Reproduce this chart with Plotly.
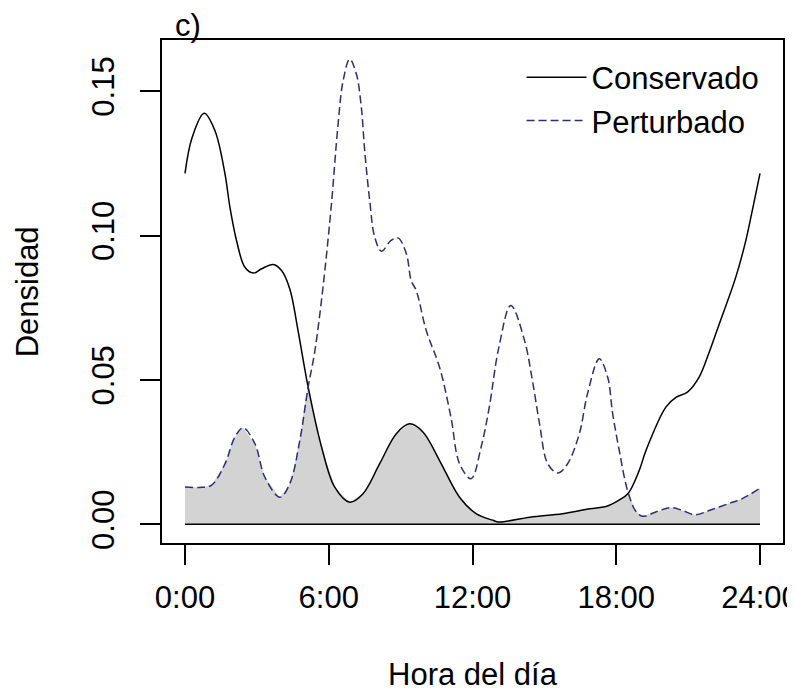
import numpy as np
import plotly.graph_objects as go

# Densidad circular por hora del día
hora_conservado = [0.0, 0.3, 0.8, 1.25, 1.67, 1.875, 2.15, 2.5, 2.85, 3.2, 3.68, 4.03,
                   4.375, 4.72, 5.14, 5.7, 6.25, 6.875, 7.43, 8.125, 8.82, 9.375, 9.93,
                   10.625, 11.46, 12.15, 12.85, 13.1, 14.4, 15.76, 16.9, 17.57, 18.1,
                   18.5, 18.96, 19.24, 20.07, 20.49, 20.97, 21.46, 21.875, 22.3, 22.99,
                   23.4, 23.68, 24.0]
dens_conservado = [0.1215, 0.134, 0.1423, 0.1363, 0.1213, 0.1098, 0.0983, 0.089, 0.087,
                   0.0885, 0.090, 0.0879, 0.0815, 0.067, 0.0475, 0.0268, 0.0129, 0.0077,
                   0.0106, 0.021, 0.0314, 0.0348, 0.032, 0.0221, 0.0094, 0.0037, 0.0014,
                   0.0008, 0.0025, 0.0037, 0.0054, 0.0062, 0.0083, 0.0108, 0.0187,
                   0.0256, 0.0406, 0.044, 0.0458, 0.051, 0.0595, 0.0694, 0.0856, 0.098,
                   0.1087, 0.1215]

hora_perturbado = [0.0, 0.6, 1.1, 1.67, 2.08, 2.43, 2.92, 3.33, 3.96, 4.375, 4.79, 5.14,
                   5.42, 5.76, 6.1, 6.39, 6.6, 6.875, 7.15, 7.36, 7.5, 7.71, 7.92, 8.2,
                   8.6, 8.89, 9.24, 9.44, 9.65, 10.07, 10.625, 11.1, 11.46, 11.94, 12.36,
                   12.7, 13.1, 13.6, 14.17, 14.5, 14.8, 15.14, 15.56, 15.97, 16.46, 16.8,
                   17.29, 17.64, 17.85, 18.125, 18.47, 18.82, 19.1, 19.65, 20.28, 20.76,
                   21.32, 21.875, 22.7, 23.26, 24.0]
dens_perturbado = [0.0129, 0.0128, 0.0135, 0.021, 0.0302, 0.0334, 0.0279, 0.0164, 0.0094,
                   0.0141, 0.029, 0.0475, 0.060, 0.0821, 0.1098, 0.1386, 0.1536, 0.1611,
                   0.156, 0.1444, 0.1294, 0.1121, 0.0994, 0.0946, 0.0983, 0.0992, 0.0937,
                   0.0844, 0.081, 0.0671, 0.0544, 0.0371, 0.021, 0.0158, 0.0268, 0.0406,
                   0.0613, 0.0758, 0.0637, 0.0498, 0.0348, 0.021, 0.0178, 0.021, 0.0314,
                   0.0452, 0.0573, 0.051, 0.0383, 0.0256, 0.0118, 0.0045, 0.0028, 0.0043,
                   0.0058, 0.0048, 0.0033, 0.0048, 0.0072, 0.0089, 0.0125]

tick_horas = [0, 6, 12, 18, 24]
tick_textos = ["0:00", "6:00", "12:00", "18:00", "24:00"]
tick_dens = [0.00, 0.05, 0.10, 0.15]
tick_dens_textos = ["0.00", "0.05", "0.10", "0.15"]

FONT = "Liberation Sans, Arial, sans-serif"
AZUL = "#2E2E72"
GRIS = "#D3D3D3"

# área de solapamiento = mínimo de las dos densidades
horas_comun = sorted(set(hora_conservado) | set(hora_perturbado))
solape = np.minimum(np.interp(horas_comun, hora_conservado, dens_conservado),
                    np.interp(horas_comun, hora_perturbado, dens_perturbado))

fig = go.Figure()

fig.add_trace(go.Scatter(x=horas_comun, y=solape, mode="lines",
                         line=dict(width=0, shape="spline", smoothing=0.6),
                         fill="tozeroy", fillcolor=GRIS, showlegend=False,
                         hoverinfo="skip"))

# línea base
fig.add_trace(go.Scatter(x=[horas_comun[0], horas_comun[-1]], y=[0, 0],
                         mode="lines", line=dict(color="black", width=1.5),
                         showlegend=False, hoverinfo="skip"))

fig.add_trace(go.Scatter(x=hora_conservado, y=dens_conservado, mode="lines",
                         name="Conservado",
                         line=dict(color="black", width=1.5, shape="spline")))
fig.add_trace(go.Scatter(x=hora_perturbado, y=dens_perturbado, mode="lines",
                         name="Perturbado",
                         line=dict(color=AZUL, width=1.5, shape="spline", dash="8px,4px")))

fig.update_xaxes(range=[-0.96, 24.96], tickvals=tick_horas, ticktext=tick_textos,
                 showgrid=False, zeroline=False, showline=True, mirror=True,
                 linecolor="black", linewidth=1.5, ticks="outside", ticklen=20,
                 tickwidth=1.5, tickcolor="black", ticklabelstandoff=6,
                 automargin=False, ticklabeloverflow="allow",
                 tickfont=dict(size=31, color="black", family=FONT))
fig.update_yaxes(range=[-0.00645, 0.1677], tickvals=tick_dens, ticktext=tick_dens_textos,
                 showgrid=False, zeroline=False, showline=True, mirror=True,
                 linecolor="black", linewidth=1.5, ticks="outside", ticklen=20,
                 tickwidth=1.5, tickcolor="black", tickangle=-90, ticklabelstandoff=14,
                 automargin=False,
                 tickfont=dict(size=31, color="black", family=FONT))

fig.add_annotation(text="Hora del día", x=0.5, y=-0.262, xref="paper", yref="paper",
                   showarrow=False, xanchor="center", yanchor="middle",
                   font=dict(size=31, color="black", family=FONT))
fig.add_annotation(text="Densidad", x=-0.216, y=0.5, xref="paper", yref="paper",
                   showarrow=False, textangle=-90, xanchor="center", yanchor="middle",
                   font=dict(size=31, color="black", family=FONT))
fig.add_annotation(text="c)", x=0.0177, y=1.029, xref="paper", yref="paper",
                   showarrow=False, xanchor="left", yanchor="middle",
                   font=dict(size=31, color="black", family=FONT))

# la página deja 8 px de margen en el body: la figura ocupa el resto
fig.update_layout(
    width=787, height=689,
    margin=dict(l=154, r=12, t=32, b=154),
    plot_bgcolor="white", paper_bgcolor="white",
    legend=dict(x=0.579, y=0.979, xanchor="left", yanchor="top", traceorder="normal",
                itemwidth=60, bgcolor="rgba(0,0,0,0)",
                font=dict(size=31, color="black", family=FONT)),
)

fig.write_html("out.html")
